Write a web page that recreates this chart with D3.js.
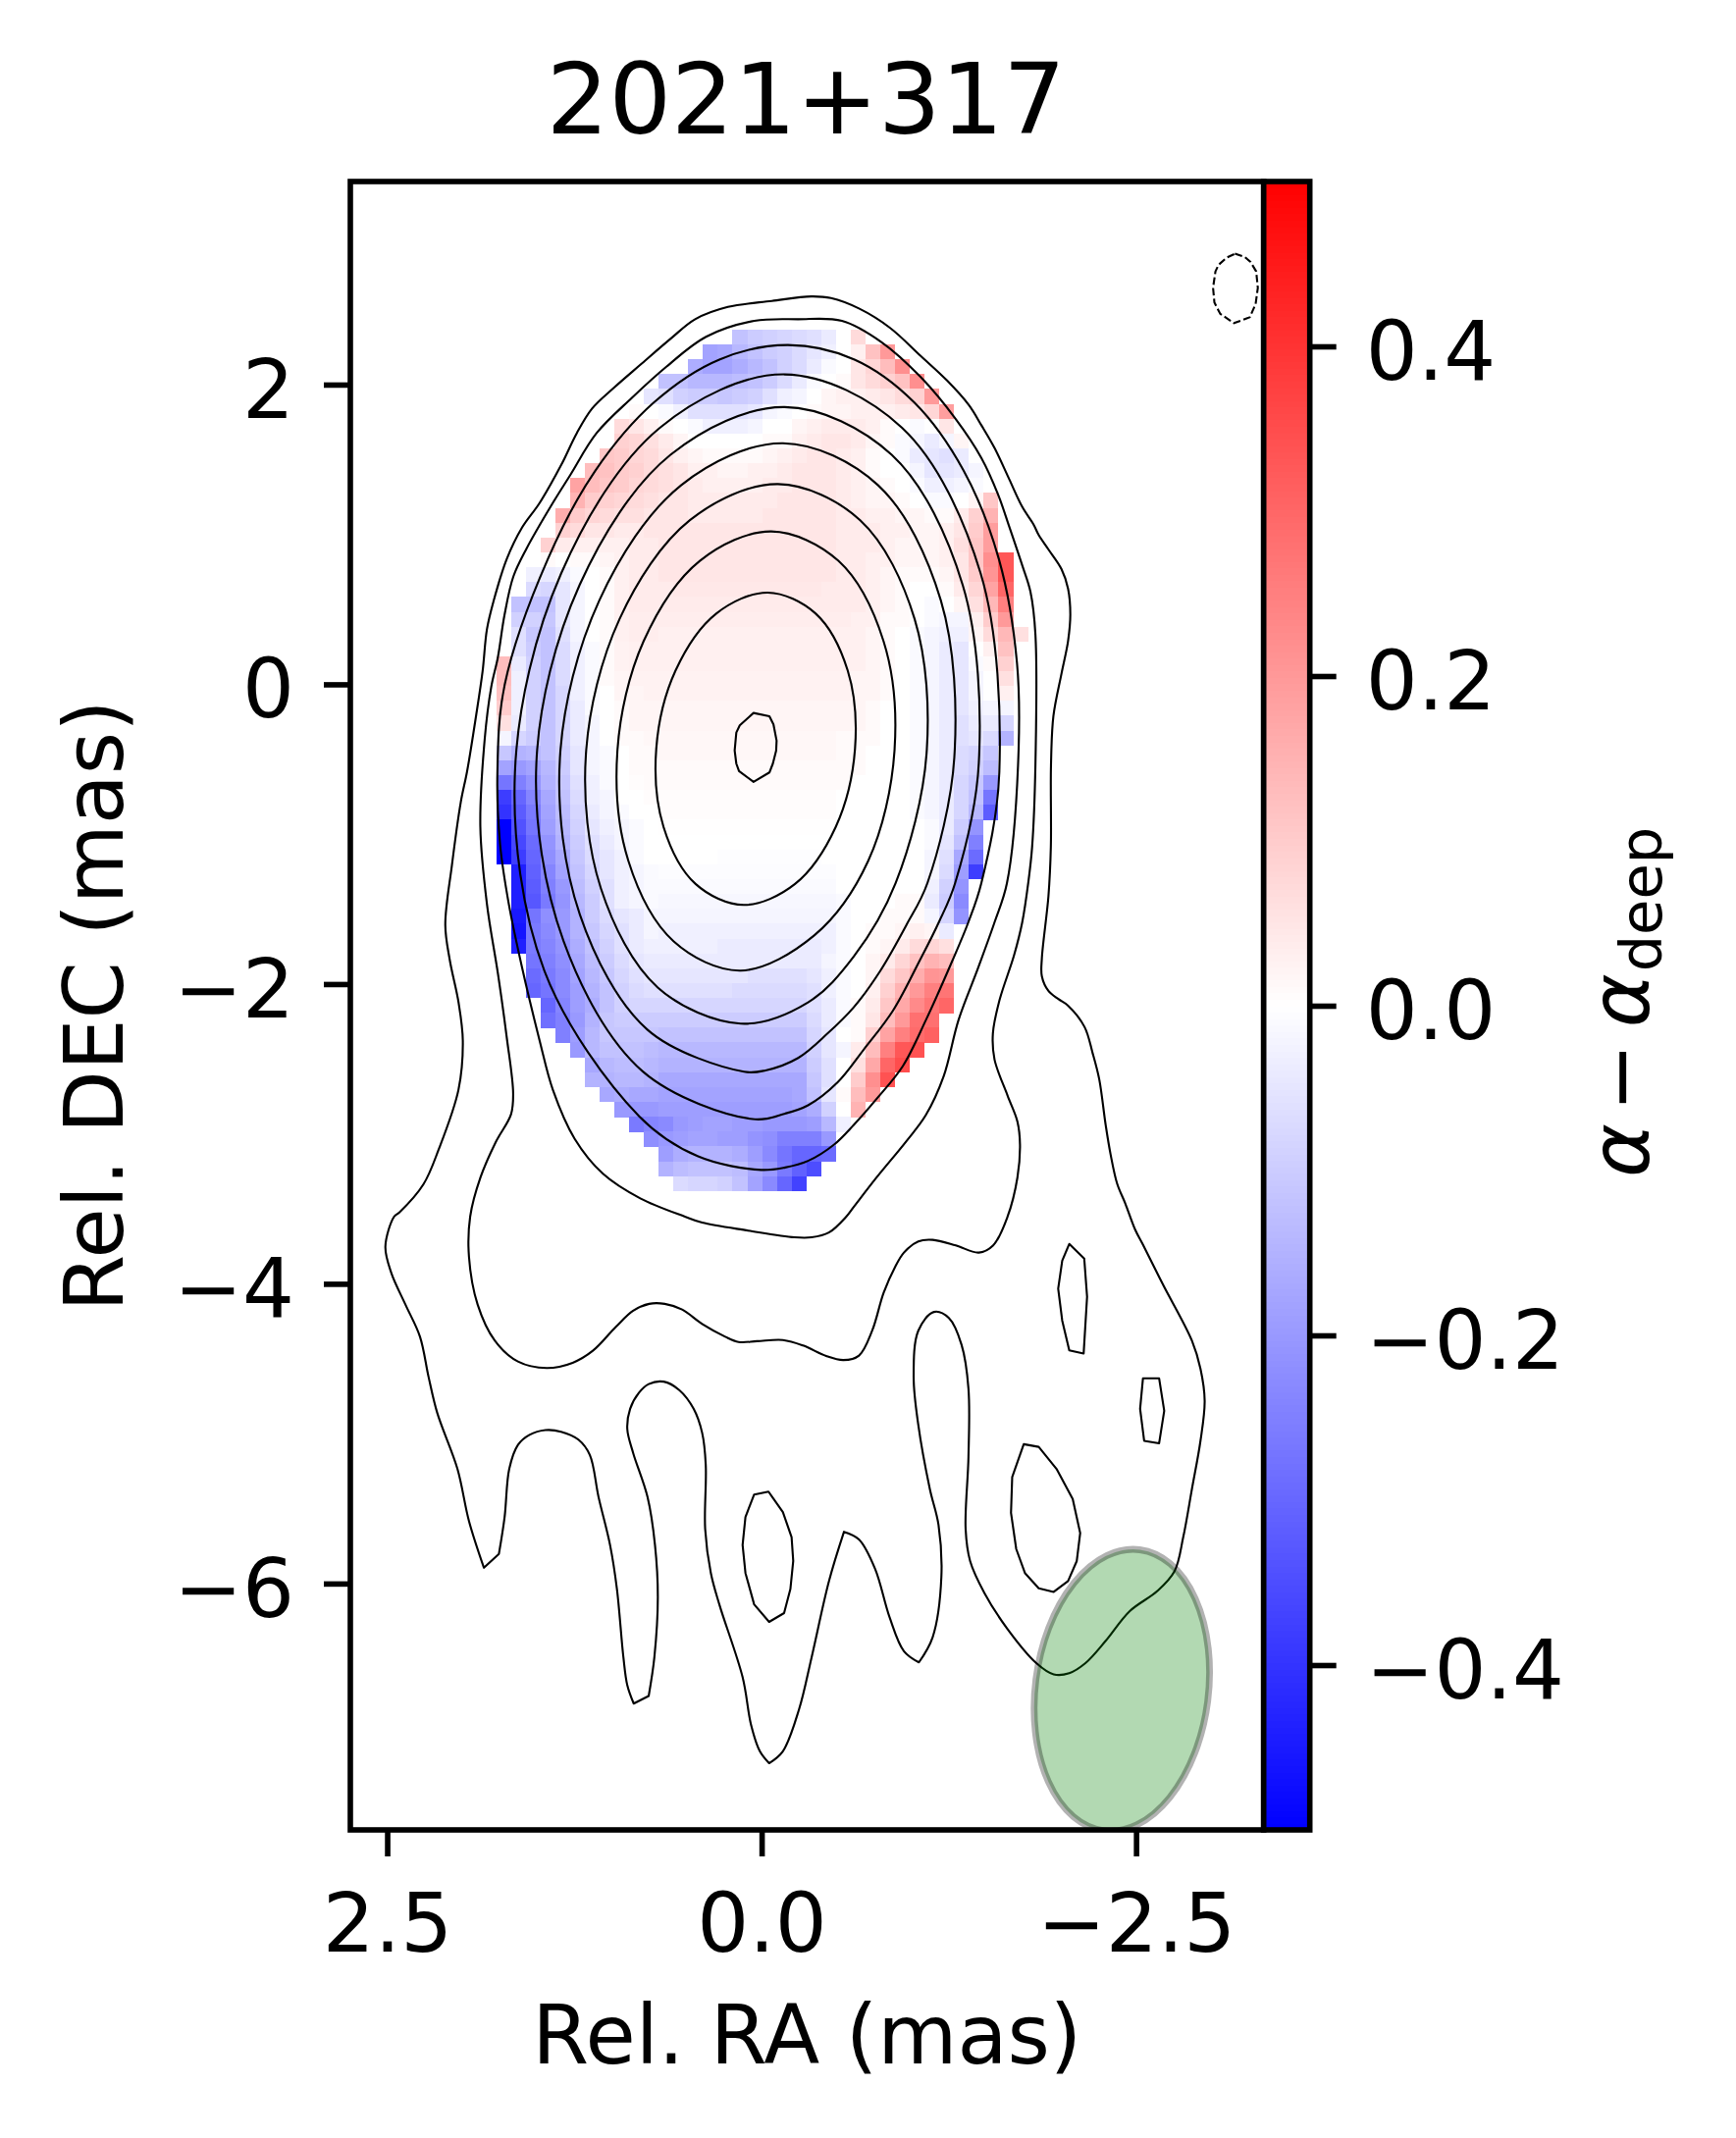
<!DOCTYPE html>
<html><head><meta charset="utf-8">
<script src="https://d3js.org/d3.v7.min.js"></script>
<style>html,body{margin:0;padding:0;background:#fff}svg{display:block}text{font-family:"DejaVu Sans";fill:#000}</style>
</head><body><svg id="c" width="1769" height="2179"></svg>
<script>
const title="2021+317", xLabel="Rel. RA (mas)", yLabel="Rel. DEC (mas)";
const xTicks=[2.5,0,-2.5], yTicks=[2,0,-2,-4,-6], cTicks=[0.4,0.2,0,-0.2,-0.4];
const xDomain=[2.746,-3.352], yDomain=[3.355,-7.644], cDomain=[-0.5,0.5];
const cellRA0=1.770, cellDEC0=2.367, cellDRA=0.0985, cellDDEC=0.0991;
// spectral index difference in hundredths; rowStart = first column of each row
const rowStart=[16,14,13,11,10,9,8,8,7,6,5,5,4,4,3,3,2,2,1,1,1,1,0,0,0,0,0,0,0,0,0,0,0,0,0,0,1,1,1,1,1,1,2,2,2,3,3,4,5,6,6,7,8,9,10,11,11,12];
const rows=[
[-12,-10,-9,-8,-7,-6,-4,0,7],
[-18,-17,-14,-12,-10,-9,-7,-5,-3,0,3,12,20],
[-16,-18,-18,-16,-14,-12,-9,-7,-4,-1,0,5,8,13,22],
[-12,-12,-14,-14,-14,-13,-12,-10,-7,-4,-1,0,1,5,7,9,12,22],
[-5,-6,-9,-10,-10,-11,-10,-9,-6,-3,-2,0,2,3,3,4,5,7,9,20],
[1,0,-1,-3,-6,-6,-6,-6,-5,-2,-1,0,1,2,2,3,3,3,4,5,8,19],
[7,5,3,1,0,-1,-3,-3,-3,-2,0,0,2,3,4,4,4,3,1,0,-1,0,5],
[9,8,6,4,2,0,0,0,0,0,1,1,3,4,5,5,4,2,1,-1,-2,-4,-2,2],
[11,10,8,7,5,3,2,1,1,1,1,2,3,4,5,5,4,3,1,0,-1,-4,-5,-6,-4],
[13,12,10,9,7,6,5,3,3,2,2,3,3,4,5,5,5,4,3,1,0,0,-2,-5,-5,-4,-2],
[18,13,11,10,8,7,6,5,4,3,3,3,3,4,4,5,5,5,4,3,2,1,0,-1,-3,-3,-2,-1],
[15,10,9,8,7,6,5,5,4,4,4,4,4,4,5,5,5,5,4,3,2,2,1,0,-1,-1,0,2,11],
[16,10,8,7,6,6,5,5,5,4,4,4,4,4,5,5,5,5,5,4,4,3,3,2,2,1,1,4,9,15],
[9,7,5,5,4,4,5,5,5,5,5,5,5,5,5,5,5,5,5,4,4,4,3,3,2,2,3,5,10,19],
[9,4,3,3,3,3,4,4,5,5,5,5,5,5,5,5,5,5,5,5,4,4,4,3,2,2,2,3,6,11,19],
[1,0,1,1,2,3,4,4,5,5,5,5,5,5,5,5,5,5,5,5,4,4,3,3,2,2,2,3,5,11,22,33],
[-3,-4,-3,-1,0,1,3,4,4,5,5,5,5,5,5,5,5,5,5,5,5,4,4,3,2,1,1,1,2,5,10,21,33],
[-7,-8,-5,-2,0,1,3,4,4,4,4.5,4.5,4.5,4.5,4.5,4.5,4.5,4.5,4.5,4.5,4,4,4,3,2,1,0,0,1,4,8,18,30],
[-12,-12,-12,-5,-2,0,1,3,4,4,4,4,4,4,4,4,4,4,4,4,4,4,4,4,3,2,1,0,-1,0,2,6,14,25],
[-9,-9,-11,-5,-2,0,1,3,3.5,3.5,3.5,3.5,3.5,3.5,3.5,3.5,3.5,3.5,3.5,3.5,3.5,3.5,3.5,3,3,1,1,0,-1,-2,-2,3,10,20],
[-6,-11,-12,-6,-2,0,1,3,3.5,3.5,3,3,3,3,3,3,3,3,3,3,3,3,3,3,2,1,0,-1,-2,-3,-3,2,7,14,6],
[-6,-10,-12,-7,-3,-1,1,2.5,3,3,3,3,3,3,3,3,3,3,3,3,3,3,3,3,2,1,0,-1,-2,-4,-5,0,3,12],
[13,-4,-9,-12,-7,-3,-1,1,2.5,3,3,3,3,3,3,3,3,3,3,3,3,3,3,3,3,2,1,0,-1,-2,-4,-5,-1,1,9],
[13,-3,-9,-12,-7,-3,-1,1,2,2.5,2.5,2.5,2.5,2.5,2.5,2.5,2.5,2.5,2.5,2.5,2.5,2.5,2.5,2.5,2,2,1,0,-1,-2,-4,-5,-2,0,6],
[12,-3,-9,-12,-8,-3,-1,0,2,2,2.5,2.5,2.5,2.5,2.5,2.5,2.5,2.5,2.5,2.5,2.5,2.5,2.5,2.5,2,2,1,0,-1,-2,-4,-5,-2,0,3],
[10,-3,-9,-12,-8,-4,-1,0,1,2,2,2,2,2,2,2,2,2,2,2,2,2,2,2,2,1,0,0,-1,-2,-4,-5,-3,-2,-2],
[6,-4,-9,-12,-8,-4,-2,0,1,2,2,2,2,2,2,2,2,2,2,2,2,2,2,2,2,1,0,0,-1,-2,-4,-6,-4,-4,-8],
[-2,-8,-10,-12,-8,-4,-2,0,1,1,1.5,1.5,1.5,1.5,1.5,1.5,1.5,1.5,1.5,1.5,1.5,1.5,1.5,1,1,1,0,0,-1,-2,-4,-6,-5,-7,-15],
[-11,-15,-14,-12,-9,-5,-2,-1,0,1,1,1.5,1.5,1.5,1.5,1.5,1.5,1.5,1.5,1.5,1.5,1.5,1.5,1,1,0,0,0,-1,-2,-4,-7,-8,-11],
[-18,-20,-18,-14,-10,-5,-2,-1,0,1,1,1,1,1,1,1,1,1,1,1,1,1,1,1,1,0,0,0,-1,-2,-4,-7,-9,-13],
[-27,-25,-21,-15,-11,-6,-3,-1,0,.5,1,1,1,1,1,1,1,1,1,1,1,1,1,1,0,0,0,0,-1,-2,-4,-8,-11,-20],
[-38,-30,-24,-17,-12,-7,-3,-2,0,0,.5,.5,.5,.5,.5,.5,.5,.5,.5,.5,.5,.5,.5,0,0,0,0,0,-1,-2,-4,-8,-12,-27],
[-40,-32,-26,-18,-13,-8,-4,-2,-1,0,0,.5,.5,.5,.5,.5,.5,.5,.5,.5,.5,.5,.5,0,0,0,0,0,-1,-2,-4,-8,-14,-32],
[-50,-34,-27,-19,-14,-9,-5,-3,-2,-1,0,.2,.2,.2,.2,.2,.2,.2,.2,.2,.2,.2,.2,0,0,0,0,0,0,-1,-4,-10,-21],
[-50,-36,-29,-21,-15,-10,-6,-4,-2,-1,0,0,0,0,0,0,0,0,0,0,0,0,0,0,0,0,0,0,0,-1,-5,-12,-25],
[-50,-38,-30,-22,-17,-11,-7,-5,-3,-1,0,0,0,0,0,-.3,-.3,-.3,-.3,-.3,-.3,-.3,0,0,0,0,0,0,0,-2,-6,-17,-29],
[-44,-31,-24,-18,-12,-8,-5,-3,-2,-1,-.5,-.5,-.5,-.5,-.5,-.5,-.5,-.5,-.5,-.5,-.5,-.5,0,0,0,0,0,0,-2,-7,-19,-38],
[-44,-32,-25,-20,-13,-9,-6,-3,-2,-1,-1,-1,-1,-1,-1,-1,-1,-1,-1,-1,-1,-1,0,0,0,0,0,0,-3,-9,-21],
[-44,-33,-26,-21,-14,-10,-6,-3,-2,-1,-1.5,-1.5,-1.5,-1.5,-1.5,-1.5,-1.5,-1.5,-1.5,-1.5,-1.5,-1.5,-1,0,0,0,1,1,-4,-10,-23],
[-45,-27,-22,-20,-15,-10,-7,-5,-4,-2,-2,-2,-2,-2,-2,-2,-2,-2,-2,-2,-2,-2,-1,0,0,1,1,1,-2,-8,-21],
[-46,-26,-23,-20,-15,-11,-8,-6,-4,-2,-3,-3,-3,-3,-3,-3,-3,-3,-3,-3,-3,-3,-1,0,1,1,2,3,2,-4],
[-44,-26,-24,-21,-16,-12,-9,-6,-4,-3,-3,-3,-3,-3,-4,-4,-4,-4,-4,-4,-4,-3,-1,0,1,2,4,7,8,6],
[-27,-25,-22,-17,-13,-10,-7,-5,-4,-4,-4,-4,-4,-4,-4,-4,-4,-4,-4,-4,-2,-1,0,2,4,8,12,15,13],
[-29,-26,-23,-18,-14,-11,-8,-6,-5,-5,-5,-5,-5,-5,-5,-6,-6,-6,-6,-5,-3,-1,0,2,7,11,16,21,20],
[-30,-27,-23,-19,-15,-12,-9,-7,-6,-6,-6,-6,-6,-6,-7,-7,-7,-7,-7,-6,-3,-1,0,3,9,15,20,25,27],
[-30,-24,-19,-16,-12,-9,-8,-8,-8,-8,-8,-8,-8,-8,-8,-8,-8,-8,-6,-4,-1,1,4,11,17,23,27,30],
[-28,-25,-20,-15,-11,-10,-10,-10,-10,-10,-10,-10,-10,-10,-10,-10,-10,-10,-7,-4,-1,1,5,13,20,28,28],
[-25,-19,-14,-11,-11,-11,-11,-12,-12,-12,-12,-12,-12,-12,-12,-12,-12,-8,-5,0,1,9,18,25,29,31],
[-20,-14,-12,-12,-12,-13,-14,-14,-14,-14,-14,-14,-14,-14,-14,-14,-9,-5,-2,4,13,25,33,34],
[-17,-14,-13,-13,-14,-15,-15,-15,-15,-15,-15,-15,-15,-15,-15,-10,-6,0,6,17,30,35],
[-15,-15,-14,-14,-15,-17,-17,-17,-17,-17,-17,-17,-17,-17,-17,-11,-6,0,10,22,34],
[-17,-16,-17,-17,-18,-18,-18,-18,-18,-18,-18,-18,-18,-17,-12,-5,1,13,20],
[-20,-20,-20,-19,-19,-19,-19,-19,-19,-19,-19,-19,-18,-16,-9,0,15],
[-26,-24,-23,-20,-19,-18,-18,-19,-19,-20,-20,-20,-19,-14,-3],
[-22,-20,-19,-18,-18,-19,-19,-21,-22,-25,-25,-25,-20],
[-19,-16,-15,-15,-15,-16,-19,-23,-27,-30,-30,-29],
[-15,-13,-12,-12,-12,-13,-17,-20,-26,-31,-35],
[-7,-8,-8,-9,-12,-18,-23,-30,-37]
];
const contour0=[[.054,-.191],[-.052,-.213],[-.079,-.267],[-.1,-.376],[-.097,-.442],[-.075,-.529],[-.052,-.588],[.054,-.651],[.151,-.579],[.169,-.529],[.18,-.442],[.169,-.322],[.146,-.274]];
const contour1=[[-.04,.612],[-.361,.472],[-.575,.091],[-.6235,-.43],[-.495,-.951],[-.223,-1.332],[.12,-1.472],[.441,-1.332],[.655,-.951],[.7035,-.43],[.575,.091],[.303,.472]];
const contour2=[[-.064,1.02],[-.5125,.824],[-.814,.2875],[-.887,-.445],[-.712,-1.1775],[-.353,-1.674],[.14,-1.91],[.5885,-1.714],[.89,-1.1775],[.963,-.445],[.788,.2875],[.4125,.824]];
const contour3=[[-.109,1.336],[-.658,1.095],[-1.0215,.436],[-1.101,-.464],[-.895,-1.326],[-.615,-1.817],[-.31,-2.122],[.139,-2.264],[.6935,-2.023],[1.0725,-1.364],[1.173,-.464],[.9485,.436],[.479,1.095]];
const contour4=[[-.143,1.609],[-.778,1.328],[-1.1965,.5605],[-1.2865,-.488],[-1.107,-1.326],[-.965,-1.609],[-.79,-1.915],[-.615,-2.155],[-.44,-2.33],[-.244,-2.493],[-.026,-2.576],[.117,-2.585],[.763,-2.304],[1.2135,-1.5365],[1.3465,-.488],[1.0835,.5605],[.538,1.328]];
const contour5=[[-.154,1.85],[-.8685,1.5315],[-1.3425,.6625],[-1.45,-.5255],[-1.292,-1.326],[-1.183,-1.588],[-1.052,-1.85],[-.877,-2.177],[-.681,-2.438],[-.506,-2.657],[-.31,-2.809],[-.157,-2.864],[.06,-2.901],[.7945,-2.5825],[1.3225,-1.7135],[1.504,-.5255],[1.2155,.6625],[.6085,1.5315]];
const contour6=[[-.154,2.068],[-.9375,1.712],[-1.462,.741],[-1.587,-.586],[-1.467,-1.326],[-1.38,-1.588],[-1.271,-1.85],[-1.096,-2.242],[-.943,-2.547],[-.768,-2.766],[-.615,-2.94],[-.484,-3.071],[-.31,-3.18],[-.157,-3.224],[.004,-3.24],[.424,-3.15],[.816,-2.884],[1.45,-1.913],[1.647,-.586],[1.338,.741],[.6795,1.712]];
const contour7=[[-.176,2.264],[-.62,2.167],[-1.02,1.88],[-1.349,1.425],[-1.585,.832],[-1.705,.142],[-1.712,-.54],[-1.638,-1.326],[-1.555,-1.588],[-1.445,-1.893],[-1.314,-2.242],[-1.216,-2.613],[-1.096,-2.875],[-.965,-3.05],[-.768,-3.29],[-.616,-3.486],[-.565,-3.552],[-.449,-3.658],[-.334,-3.69],[-.219,-3.69],[.089,-3.645],[.397,-3.592],[.512,-3.552],[.81,-3.43],[1.059,-3.266],[1.248,-3.033],[1.394,-2.705],[1.482,-2.378],[1.6,-1.887],[1.688,-1.466],[1.746,-1.069],[1.764,-.585],[1.715,0],[1.429,.832],[1.111,1.425],[.72,1.88],[.282,2.167]];
const contourB=[[-.243,2.436],[-.536,2.425],[-.799,2.284],[-1.062,2.05],[-1.296,1.77],[-1.467,1.511],[-1.577,1.271],[-1.653,1.053],[-1.741,.791],[-1.795,.617],[-1.828,.333],[-1.828,-.54],[-1.806,-1.085],[-1.78,-1.326],[-1.74,-1.588],[-1.686,-1.806],[-1.587,-2.112],[-1.544,-2.33],[-1.555,-2.504],[-1.642,-2.744],[-1.708,-2.918],[-1.725,-3.071],[-1.708,-3.29],[-1.642,-3.552],[-1.546,-3.744],[-1.45,-3.792],[-1.296,-3.744],[-1.142,-3.707],[-1.046,-3.717],[-.95,-3.792],[-.892,-3.886],[-.815,-4.059],[-.738,-4.313],[-.65,-4.479],[-.546,-4.509],[-.431,-4.482],[-.277,-4.412],[-.142,-4.375],[.031,-4.383],[.154,-4.388],[.243,-4.353],[.397,-4.268],[.531,-4.172],[.647,-4.134],[.751,-4.134],[.858,-4.18],[.973,-4.287],[1.127,-4.447],[1.262,-4.527],[1.435,-4.562],[1.627,-4.519],[1.781,-4.38],[1.896,-4.139],[1.954,-3.819],[1.946,-3.552],[1.877,-3.29],[1.776,-3.056],[1.673,-2.869],[1.659,-2.729],[1.702,-2.354],[1.76,-1.934],[1.834,-1.466],[1.878,-.952],[1.849,-.367],[1.805,-.016],[1.761,.18],[1.717,.461],[1.658,.718],[1.57,.905],[1.395,1.209],[1.278,1.396],[1.102,1.676],[.868,1.91],[.634,2.121],[.371,2.319],[.049,2.425]];
const contourA=[[-.331,2.588],[-.463,2.577],[-.653,2.506],[-.858,2.378],[-1.062,2.191],[-1.238,2.027],[-1.384,1.863],[-1.467,1.729],[-1.555,1.577],[-1.653,1.369],[-1.74,1.184],[-1.817,1.064],[-1.849,.998],[-1.915,.9],[-2.002,.769],[-2.046,.638],[-2.061,.464],[-2.046,.289],[-2.002,.071],[-1.948,-.213],[-1.932,-.54],[-1.931,-1.086],[-1.915,-1.413],[-1.871,-1.828],[-1.871,-1.948],[-1.915,-2.046],[-1.981,-2.1],[-2.046,-2.144],[-2.156,-2.286],[-2.21,-2.461],[-2.254,-2.635],[-2.297,-2.94],[-2.33,-3.137],[-2.374,-3.333],[-2.428,-3.464],[-2.494,-3.639],[-2.546,-3.739],[-2.68,-4.006],[-2.873,-4.38],[-2.93,-4.567],[-2.958,-4.781],[-2.93,-5.048],[-2.873,-5.369],[-2.815,-5.69],[-2.757,-5.917],[-2.642,-6.05],[-2.458,-6.184],[-2.296,-6.384],[-2.162,-6.531],[-2.054,-6.598],[-1.95,-6.606],[-1.834,-6.531],[-1.642,-6.304],[-1.488,-6.064],[-1.392,-5.85],[-1.362,-5.636],[-1.381,-5.155],[-1.381,-4.7],[-1.335,-4.407],[-1.25,-4.228],[-1.15,-4.188],[-1.046,-4.313],[-1.015,-4.621],[-1.046,-4.941],[-1.123,-5.369],[-1.181,-5.609],[-1.2,-5.957],[-1.142,-6.358],[-1.05,-6.526],[-1.05,-6.526],[-.95,-6.451],[-.854,-6.224],[-.758,-5.903],[-.65,-5.706],[-.55,-5.655],[-.55,-5.655],[-.45,-5.983],[-.334,-6.491],[-.25,-6.839],[-.142,-7.119],[-.05,-7.199],[-.05,-7.199],[.012,-7.119],[.07,-6.945],[.127,-6.625],[.281,-6.144],[.339,-5.93],[.377,-5.636],[.373,-5.209],[.397,-4.995],[.454,-4.834],[.55,-4.709],[.654,-4.653],[.754,-4.669],[.82,-4.728],[.878,-4.834],[.897,-4.968],[.858,-5.128],[.762,-5.422],[.712,-5.743],[.693,-6.091],[.716,-6.491],[.754,-6.75],[.754,-6.75],[.854,-6.801],[.854,-6.801],[.897,-6.678],[.923,-6.491],[.966,-6.037],[1.012,-5.743],[1.089,-5.422],[1.147,-5.142],[1.223,-5.04],[1.339,-4.987],[1.443,-4.976],[1.55,-5.008],[1.627,-5.075],[1.685,-5.235],[1.716,-5.556],[1.754,-5.802],[1.754,-5.802],[1.854,-5.895],[1.854,-5.895],[1.954,-5.583],[2.031,-5.235],[2.166,-4.861],[2.224,-4.62],[2.281,-4.353],[2.378,-4.139],[2.473,-3.926],[2.512,-3.752],[2.454,-3.552],[2.419,-3.524],[2.258,-3.336],[2.156,-3.103],[2.024,-2.705],[1.995,-2.378],[2.024,-2.12],[2.082,-1.84],[2.112,-1.606],[2.068,-1.209],[2.009,-.788],[1.966,-.578],[1.907,-.213],[1.863,.087],[1.834,.367],[1.79,.554],[1.702,.835],[1.6,1.045],[1.483,1.209],[1.337,1.466],[1.234,1.676],[1.132,1.84],[.985,1.98],[.81,2.132],[.605,2.308],[.444,2.436],[.225,2.518],[-.068,2.558]];
const island1=[[-2.054,-3.734],[-2.154,-3.832],[-2.173,-4.086],[-2.15,-4.465],[-2.054,-4.444],[-2.007,-4.246],[-1.98,-4.033],[-2.007,-3.846]];
const island2=[[-2.546,-4.631],[-2.654,-4.631],[-2.688,-4.848],[-2.654,-5.064],[-2.554,-5.048],[-2.527,-4.834]];
const island3=[[-1.75,-5.07],[-1.85,-5.088],[-1.969,-5.235],[-2.077,-5.436],[-2.127,-5.663],[-2.104,-5.85],[-2.046,-5.983],[-1.95,-6.056],[-1.85,-6.032],[-1.758,-5.93],[-1.7,-5.77],[-1.665,-5.529],[-1.673,-5.289]];
const island4=[[.05,-5.406],[-.046,-5.387],[-.142,-5.524],[-.2,-5.69],[-.211,-5.849],[-.192,-6.037],[-.15,-6.197],[-.05,-6.256],[.05,-6.139],[.108,-5.93],[.127,-5.743],[.108,-5.556]];
const negContour=[[-3.16,2.873],[-3.226,2.851],[-3.263,2.82],[-3.302,2.755],[-3.313,2.646],[-3.298,2.537],[-3.259,2.449],[-3.154,2.41],[-3.062,2.472],[-3.023,2.548],[-3.014,2.646],[-3.03,2.755],[-3.051,2.799],[-3.105,2.847]];
const smoothContours=[contour1,contour2,contour3,contour4,contour5,contour6,contour7,contourB,contourA];
const polyContours=[contour0,island1,island2,island3,island4];
const beam={ra:-2.405,dec:-6.712,a:0.578,b:0.945,angle:7.3};

const svg=d3.select("#c");
const L=357,R=1287.7,T=185,B=1865,CL=1287.7,CR=1334.7;
const fs=83.3;
const x=d3.scaleLinear().domain(xDomain).range([L,R]);
const y=d3.scaleLinear().domain(yDomain).range([T,B]);
const c=d3.scaleLinear().domain([-.5,0,.5]).range(["#0000ff","#ffffff","#ff0000"]);
const cy=d3.scaleLinear().domain(cDomain).range([B,T]);
svg.append("rect").attr("width",1769).attr("height",2179).attr("fill","#fff");
svg.append("defs").append("clipPath").attr("id","ax").append("rect").attr("x",L).attr("y",T).attr("width",R-L).attr("height",B-T);
const plot=svg.append("g").attr("clip-path","url(#ax)");
const cells=rows.flatMap((r,i)=>r.map((v,j)=>({i,j:j+rowStart[i],v:v/100})));
plot.append("g").attr("shape-rendering","crispEdges").selectAll("rect").data(cells).join("rect")
 .attr("x",d=>x(cellRA0-d.j*cellDRA))
 .attr("y",d=>y(cellDEC0-d.i*cellDDEC))
 .attr("width",d=>x(cellRA0-(d.j+1)*cellDRA)-x(cellRA0-d.j*cellDRA)+.4)
 .attr("height",d=>y(cellDEC0-(d.i+1)*cellDDEC)-y(cellDEC0-d.i*cellDDEC)+.4)
 .attr("fill",d=>c(d.v));
const smooth=d3.line().x(d=>x(d[0])).y(d=>y(d[1])).curve(d3.curveCatmullRomClosed.alpha(.5));
const poly=d3.line().x(d=>x(d[0])).y(d=>y(d[1])).curve(d3.curveLinearClosed);
const cg=plot.append("g").attr("fill","none").attr("stroke","#000").attr("stroke-width",2.1).attr("stroke-linejoin","round");
cg.selectAll("path.s").data(smoothContours).join("path").attr("class","s").attr("d",smooth);
cg.selectAll("path.p").data(polyContours).join("path").attr("class","p").attr("d",poly);
cg.append("path").datum(negContour).attr("d",poly).attr("stroke-dasharray","7.7 3.3");
plot.append("ellipse").attr("cx",x(beam.ra)).attr("cy",y(beam.dec))
 .attr("rx",x(beam.ra-beam.a)-x(beam.ra)).attr("ry",y(beam.dec-beam.b)-y(beam.dec))
 .attr("transform",`rotate(${beam.angle} ${x(beam.ra)} ${y(beam.dec)})`)
 .attr("fill","#008000").attr("fill-opacity",.3).attr("stroke","#000").attr("stroke-opacity",.3).attr("stroke-width",6.9);
svg.append("rect").attr("x",L).attr("y",T).attr("width",R-L).attr("height",B-T).attr("fill","none").attr("stroke","#000").attr("stroke-width",5.6);
const style=g=>{g.select(".domain").remove();g.selectAll("line").attr("stroke","#000").attr("stroke-width",5.6);g.selectAll("text").attr("font-size",fs).attr("font-family","DejaVu Sans").attr("fill","#000");};
const vAlign=g=>g.selectAll("text").attr("dy","0.4em");
svg.append("g").attr("transform",`translate(0,${B})`).call(d3.axisBottom(x).tickValues(xTicks).tickFormat(d3.format(".1f")).tickSize(27).tickPadding(38)).call(style);
svg.append("g").attr("transform",`translate(${L},0)`).call(d3.axisLeft(y).tickValues(yTicks).tickFormat(d3.format("d")).tickSize(27).tickPadding(30)).call(style).call(vAlign);
// colorbar
const steps=d3.range(-.5,.5,1/256);
svg.append("g").attr("shape-rendering","crispEdges").selectAll("rect").data(steps).join("rect")
 .attr("x",CL).attr("width",CR-CL).attr("y",d=>cy(d+1/256)).attr("height",d=>cy(d)-cy(d+1/256)+.6).attr("fill",d=>c(d+.5/256));
svg.append("rect").attr("x",CL).attr("y",T).attr("width",CR-CL).attr("height",B-T).attr("fill","none").attr("stroke","#000").attr("stroke-width",5.6);
svg.append("g").attr("transform",`translate(${CR},0)`).call(d3.axisRight(cy).tickValues(cTicks).tickFormat(d3.format(".1f")).tickSize(27).tickPadding(30)).call(style).call(vAlign);
// labels
svg.append("text").attr("x",(L+R)/2-1).attr("y",136).attr("text-anchor","middle").attr("font-size",100).text(title);
svg.append("text").attr("x",(L+R)/2).attr("y",2103).attr("text-anchor","middle").attr("font-size",fs).text(xLabel);
svg.append("text").attr("transform",`translate(125,${(T+B)/2}) rotate(-90)`).attr("text-anchor","middle").attr("font-size",fs).text(yLabel);
const cl=svg.append("text").attr("transform",`translate(1680,1200) rotate(-90)`).attr("text-anchor","start").attr("font-size",fs);
cl.append("tspan").attr("font-style","italic").text("α");
cl.append("tspan").attr("dx",12).text("−");
cl.append("tspan").attr("dx",16).attr("font-style","italic").text("α");
cl.append("tspan").attr("font-size",59).attr("dx",2).attr("dy",13).text("deep");
</script></body></html>
